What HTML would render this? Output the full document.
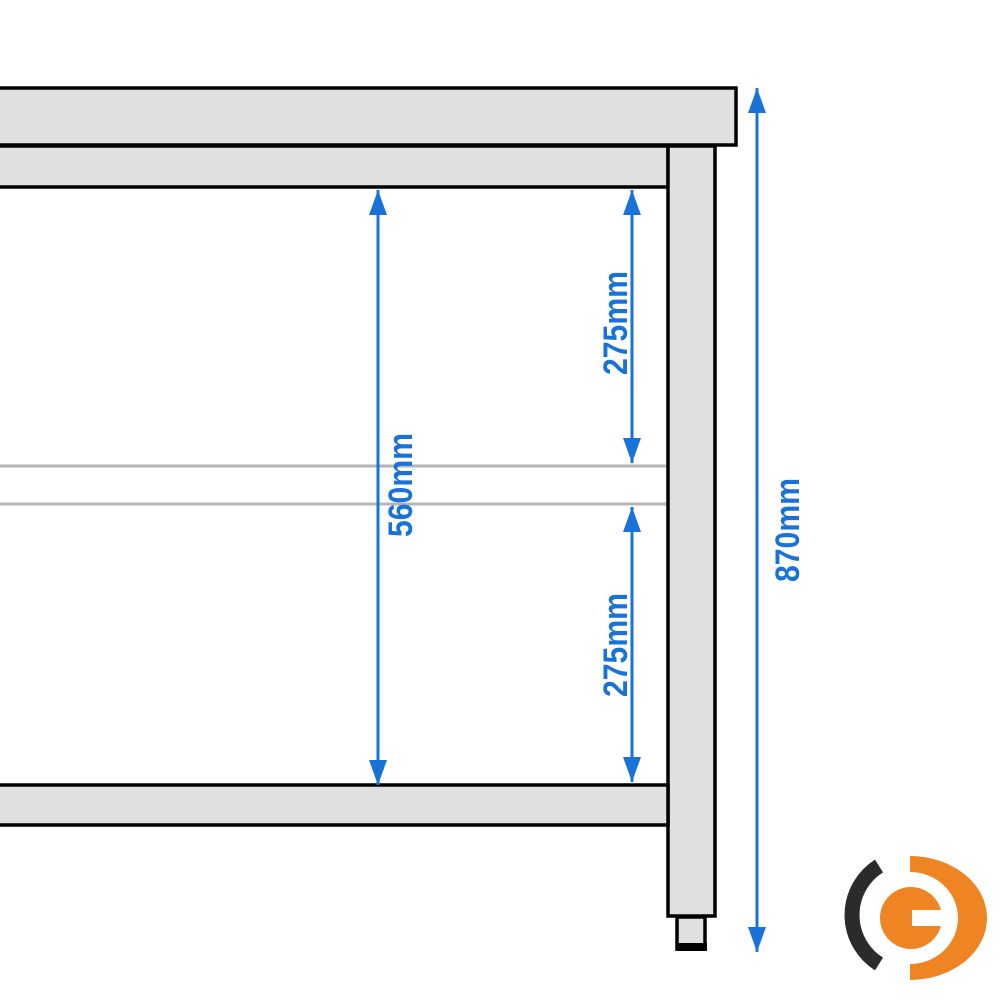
<!DOCTYPE html>
<html><head><style>html,body{margin:0;padding:0;background:#fff;width:1000px;height:1000px;overflow:hidden}</style></head>
<body>
<svg width="1000" height="1000" viewBox="0 0 1000 1000" xmlns="http://www.w3.org/2000/svg">
<g fill="#e0e0e0" stroke="#000" stroke-width="3.5">
<rect x="-10" y="88" width="746" height="57"/>
<rect x="-10" y="146" width="678" height="41"/>
<rect x="668" y="146" width="47" height="770"/>
<rect x="-10" y="785" width="678" height="40"/>
<rect x="677" y="917" width="28" height="32"/>
</g>
<rect x="676" y="943" width="31" height="8" fill="#000"/>
<line x1="0" y1="466" x2="666" y2="466" stroke="#b5b5b5" stroke-width="3"/>
<line x1="0" y1="504" x2="666" y2="504" stroke="#b5b5b5" stroke-width="3"/>
<g stroke="#1872d8" stroke-width="3">
<line x1="378" y1="190" x2="378" y2="785"/>
<line x1="632" y1="190" x2="632" y2="463"/>
<line x1="632" y1="507" x2="632" y2="782"/>
<line x1="757" y1="88" x2="757" y2="952"/>
</g>
<g fill="#1872d8">
<path d="M378,190 l-9,25 h18z"/><path d="M378,785 l-9,-25 h18z"/>
<path d="M632,190 l-9,25 h18z"/><path d="M632,463 l-9,-25 h18z"/>
<path d="M632,507 l-9,25 h18z"/><path d="M632,782 l-9,-25 h18z"/>
<path d="M757,88 l-9,25 h18z"/><path d="M757,952 l-9,-25 h18z"/>
</g>
<g fill="#1872d8" font-family="Liberation Sans Narrow, Liberation Sans, sans-serif" font-weight="bold" font-size="34">
<text transform="translate(412,485) rotate(-90)" text-anchor="middle" textLength="104" lengthAdjust="spacingAndGlyphs">560mm</text>
<text transform="translate(627,323) rotate(-90)" text-anchor="middle" textLength="104" lengthAdjust="spacingAndGlyphs">275mm</text>
<text transform="translate(627,645) rotate(-90)" text-anchor="middle" textLength="104" lengthAdjust="spacingAndGlyphs">275mm</text>
<text transform="translate(799,530) rotate(-90)" text-anchor="middle" textLength="104" lengthAdjust="spacingAndGlyphs">870mm</text>
</g>
<path d="M879,866 A58,58 0 0 0 879,964" fill="none" stroke="#2b2b2b" stroke-width="15"/>
<path d="M910,856 A77,62 0 0 1 910,980 V964 A48,46 0 0 0 910,872 Z" fill="#ee8522"/>
<circle cx="911" cy="918" r="31" fill="#ee8522"/>
<rect x="912" y="910" width="40" height="16" fill="#fff"/>
</svg>
</body></html>
